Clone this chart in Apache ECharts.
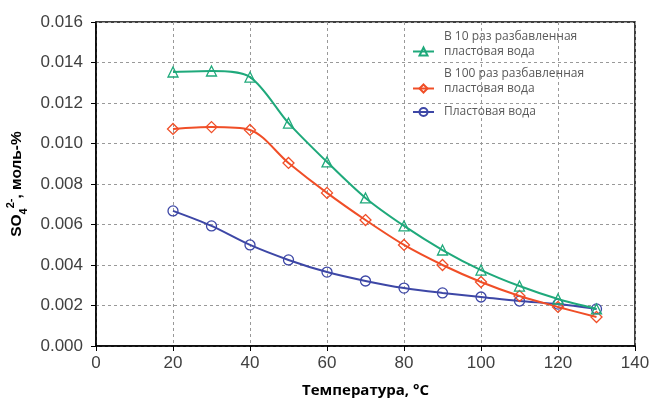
<!DOCTYPE html>
<html><head><meta charset="utf-8">
<script src="https://cdn.jsdelivr.net/npm/echarts@6/dist/echarts.min.js"></script>
<style>html,body{margin:0;padding:0;background:#fff}#c{width:652px;height:399px}</style>
</head><body><div id="c"></div>
<script>
const temps = [20, 30, 40, 50, 60, 70, 80, 90, 100, 110, 120, 130];
const diluted10 = [0.01353, 0.01358, 0.01328, 0.01101, 0.00909, 0.00731, 0.00593, 0.00474, 0.00375, 0.00296, 0.00232, 0.00183];
const diluted100 = [0.01072, 0.01081, 0.01067, 0.00904, 0.00756, 0.00622, 0.00499, 0.00400, 0.00316, 0.00247, 0.00193, 0.00143];
const formation = [0.00667, 0.00593, 0.00499, 0.00425, 0.00365, 0.00321, 0.00286, 0.00262, 0.00242, 0.00222, 0.00207, 0.00183];
const seriesNames = ['В 10 раз разбавленная\nпластовая вода', 'В 100 раз разбавленная\nпластовая вода', 'Пластовая вода'];
const xTicks = [0, 20, 40, 60, 80, 100, 120, 140];

const colors = ['#1fa97b', '#f04e27', '#3d47a6'];
const symbols = ['triangle', 'diamond', 'circle'];
const dataSets = [diluted10, diluted100, formation];

const chart = echarts.init(document.getElementById('c'), null, {renderer: 'canvas'});
const legendText = {color: '#595959', fontSize: 12, fontFamily: 'Open Sans', lineHeight: 14.5, padding: [0, 0, 0, 5]};
function mkLegend(i, top) {
  return {
    data: [seriesNames[i]], left: 407, top: top, itemWidth: 21, itemHeight: 10,
    textStyle: legendText,
    formatter: n => n.indexOf('\n') >= 0 ? n + '\n ' : n
  };
}
chart.setOption({
  animation: false,
  grid: {left: 96, right: 17, top: 22, bottom: 53, show: true, borderColor: '#000', borderWidth: 1.5, backgroundColor: 'transparent', outerBoundsMode: 'none', containLabel: false},
  legend: [mkLegend(0, 24.75), mkLegend(1, 61.75), mkLegend(2, 99.75)],
  xAxis: {
    type: 'value', min: 0, max: 140, interval: 20,
    axisLine: {lineStyle: {color: '#000', width: 1.5}},
    axisTick: {show: true, length: 5, lineStyle: {color: '#000'}},
    axisLabel: {color: '#404040', fontSize: 17, fontFamily: 'Liberation Sans', margin: 9},
    splitLine: {show: true, lineStyle: {color: '#999', type: [3, 3], width: 1}},
    name: 'Температура, °С', nameLocation: 'middle', nameGap: 37,
    nameTextStyle: {fontSize: 15, fontWeight: 'bold', fontFamily: 'Open Sans', color: '#000'}
  },
  yAxis: {
    type: 'value', min: 0, max: 0.016, interval: 0.002,
    axisLine: {show: true, lineStyle: {color: '#000', width: 1.5}},
    axisTick: {show: true, length: 5, lineStyle: {color: '#000'}},
    axisLabel: {color: '#404040', fontSize: 17, fontFamily: 'Liberation Sans', formatter: v => v.toFixed(3), margin: 13},
    splitLine: {show: true, lineStyle: {color: '#999', type: [3, 3], width: 1}},
    name: '{b|SO}{sub|4}{sup|2-}{b|, моль-%}', nameLocation: 'middle', nameGap: 67, nameRotate: 90,
    nameTextStyle: {
      rich: {
        b: {fontSize: 15.5, fontWeight: 'bold', fontFamily: 'Liberation Sans', color: '#000', lineHeight: 24, verticalAlign: 'middle'},
        sub: {fontSize: 11, fontWeight: 'bold', fontFamily: 'Liberation Sans', color: '#000', lineHeight: 24, verticalAlign: 'bottom'},
        sup: {fontSize: 11, fontWeight: 'bold', fontFamily: 'Liberation Sans', color: '#000', lineHeight: 24, verticalAlign: 'top'}
      }
    }
  },
  series: dataSets.map((d, i) => ({
    name: seriesNames[i], type: 'line', smooth: 0.3,
    data: temps.map((t, j) => [t, d[j]]),
    symbol: symbols[i], symbolSize: i === 1 ? 11 : 10,
    lineStyle: {color: colors[i], width: 2},
    itemStyle: {color: 'rgba(255,255,255,0)', borderColor: colors[i], borderWidth: 1.3},
    z: 3 - i
  }))
});
</script></body></html>
